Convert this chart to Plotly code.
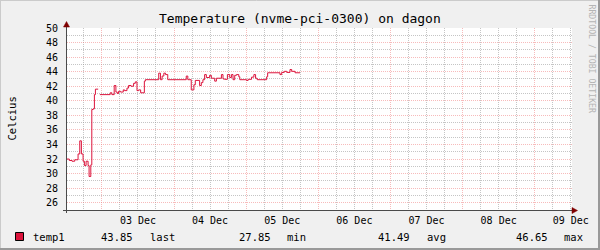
import plotly.graph_objects as go

# ---- data ----
times = [
    "2023-12-02 12:24", "2023-12-02 13:10", "2023-12-02 14:04", "2023-12-02 14:58",
    "2023-12-02 16:05", "2023-12-02 16:39", "2023-12-02 17:11", "2023-12-02 17:45",
    "2023-12-02 18:11", "2023-12-02 18:45", "2023-12-02 19:25", "2023-12-02 19:45",
    "2023-12-02 20:19", "2023-12-02 20:39", "2023-12-02 21:05", "2023-12-02 21:31",
    "2023-12-02 21:51", "2023-12-02 22:46", "2023-12-02 22:50", "2023-12-02 23:20",
    "2023-12-03 02:46", "2023-12-03 03:20", "2023-12-03 04:06", "2023-12-03 04:40",
    "2023-12-03 05:07", "2023-12-03 05:33", "2023-12-03 06:13", "2023-12-03 07:07",
    "2023-12-03 07:33", "2023-12-03 08:21", "2023-12-03 08:53", "2023-12-03 09:41",
    "2023-12-03 10:33", "2023-12-03 11:07", "2023-12-03 11:41", "2023-12-03 12:14",
    "2023-12-03 12:54", "2023-12-03 14:08", "2023-12-03 14:28", "2023-12-03 18:55",
    "2023-12-03 19:29", "2023-12-03 20:03", "2023-12-03 20:37", "2023-12-03 21:11",
    "2023-12-03 21:55", "2023-12-04 04:04", "2023-12-04 04:36", "2023-12-04 05:44",
    "2023-12-04 06:37", "2023-12-04 07:05", "2023-12-04 08:31", "2023-12-04 09:05",
    "2023-12-04 09:37", "2023-12-04 10:11", "2023-12-04 10:45", "2023-12-04 11:51",
    "2023-12-04 12:25", "2023-12-04 13:32", "2023-12-04 14:06", "2023-12-04 15:46",
    "2023-12-04 16:18", "2023-12-04 16:52", "2023-12-04 17:46", "2023-12-04 18:32",
    "2023-12-04 19:06", "2023-12-04 19:38", "2023-12-04 20:12", "2023-12-04 20:46",
    "2023-12-04 21:33", "2023-12-04 21:53", "2023-12-05 00:07", "2023-12-05 00:40",
    "2023-12-05 01:48", "2023-12-05 02:34", "2023-12-05 03:08", "2023-12-05 03:40",
    "2023-12-05 06:49", "2023-12-05 07:09", "2023-12-05 11:15", "2023-12-05 11:49",
    "2023-12-05 12:41", "2023-12-05 13:29", "2023-12-05 14:35", "2023-12-05 15:09",
    "2023-12-05 16:16", "2023-12-05 17:56",
]
temp1 = [
    32.0, 31.8, 31.7, 31.9,
    32.7, 34.5, 32.7, 31.7,
    31.1, 31.7, 31.1, 29.6,
    31.2, 38.8, 38.9, 40.85,
    41.6, 41.6, None, 40.85,
    41.1, 40.85, 42.1, 41.2,
    41.0, 41.3, 41.2, 41.5,
    41.4, 41.75, 42.1, 42.0,
    42.4, 42.6, 41.4, 41.5,
    41.1, 42.7, 42.9, 43.8,
    42.9, 43.4, 43.8, 43.6,
    42.9, 43.4, 42.9, 41.5,
    42.2, 42.8, 42.1, 42.5,
    42.9, 43.6, 43.2, 43.5,
    43.1, 42.7, 43.1, 43.6,
    43.0, 42.95, 43.6, 43.2,
    43.6, 42.9, 43.5, 43.6,
    43.3, 42.9, 42.8, 42.95,
    43.25, 43.6, 43.1, 42.9,
    43.3, 43.85, 43.6, 43.9,
    44.05, 43.9, 44.3, 44.05,
    43.85, 43.85,
]
x_range = ["2023-12-02 12:24", "2023-12-09 12:24"]
y_range = [25, 50]
title = "Temperature (nvme-pci-0300) on dagon"
y_title = "Celcius"
series_name = "temp1"
stats = [("43.85", "last"), ("27.85", "min"), ("41.49", "avg"), ("46.65", "max")]
watermark = "RRDTOOL / TOBI OETIKER"

# ---- geometry helpers (pixel -> paper) ----
W, H = 600, 250
L, R, T, B = 67, 28, 28, 40
PW, PH = W - L - R, H - T - B


def px(x):
    return (x - L) / PW


def py(y):
    return (H - B - y) / PH


LINE = "#dc143c"
FONT = "DejaVu Sans Mono"

fig = go.Figure()
fig.add_trace(go.Scatter(
    x=times, y=temp1, mode="lines", line=dict(color=LINE, width=1, shape="hv"),
    connectgaps=False, showlegend=False, hoverinfo="skip",
))

minor_col = "rgba(150,150,150,0.55)"
major_col = "rgba(240,120,120,0.5)"

fig.update_layout(
    width=W, height=H,
    margin=dict(l=L, r=R, t=T, b=B, pad=0),
    paper_bgcolor="#f0f0f0", plot_bgcolor="#ffffff",
    font=dict(family=FONT, size=10, color="#000000"),
    showlegend=False,
    xaxis=dict(
        type="date", range=x_range, tick0="2023-12-02", dtick=86400000,
        ticklabelmode="period", tickformat="%d %b",
        showgrid=True, gridcolor=major_col, griddash="1px,1px", gridwidth=1,
        ticks="", showline=False, zeroline=False,
        tickfont=dict(family=FONT, size=10), ticklabelstandoff=3,
        minor=dict(dtick=21600000, tick0="2023-12-02", showgrid=True,
                   gridcolor=minor_col, griddash="1px,1px", gridwidth=1),
        fixedrange=True,
    ),
    yaxis=dict(
        range=y_range, tick0=0, dtick=2,
        showgrid=True, gridcolor=major_col, griddash="1px,1px", gridwidth=1,
        ticks="", showline=False, zeroline=False,
        tickfont=dict(family=FONT, size=10), ticklabelstandoff=8,
        minor=dict(dtick=1, tick0=0, showgrid=True, gridcolor=minor_col,
                   griddash="1px,1px", gridwidth=1),
        fixedrange=True,
    ),
)

shapes = []
# 3D frame around the canvas
shapes.append(dict(type="line", xref="paper", yref="paper", x0=px(0), x1=px(W), y0=py(0.5), y1=py(0.5),
                   line=dict(color="#cbcbcb", width=1)))
shapes.append(dict(type="line", xref="paper", yref="paper", x0=px(0.5), x1=px(0.5), y0=py(0), y1=py(H),
                   line=dict(color="#cbcbcb", width=1)))
shapes.append(dict(type="line", xref="paper", yref="paper", x0=px(0), x1=px(W), y0=py(H - 1), y1=py(H - 1),
                   line=dict(color="#999999", width=2)))
shapes.append(dict(type="line", xref="paper", yref="paper", x0=px(W - 1), x1=px(W - 1), y0=py(0), y1=py(H),
                   line=dict(color="#999999", width=2)))
# axes
AX = "#4a4a4a"
shapes.append(dict(type="line", xref="paper", yref="paper", x0=px(63), x1=px(573), y0=py(210.5), y1=py(210.5),
                   line=dict(color=AX, width=1)))
shapes.append(dict(type="line", xref="paper", yref="paper", x0=px(66.5), x1=px(66.5), y0=py(213), y1=py(25),
                   line=dict(color=AX, width=1)))
# arrows
ARW = "#7f0000"
shapes.append(dict(type="path", xref="paper", yref="paper",
                   path=f"M {px(66.5)},{py(21.5)} L {px(63.5)},{py(27)} L {px(69.5)},{py(27)} Z",
                   fillcolor=ARW, line=dict(color=ARW, width=0.5)))
shapes.append(dict(type="path", xref="paper", yref="paper",
                   path=f"M {px(577.5)},{py(210.5)} L {px(572)},{py(207.5)} L {px(572)},{py(213.5)} Z",
                   fillcolor=ARW, line=dict(color=ARW, width=0.5)))
# legend swatch
shapes.append(dict(type="rect", xref="paper", yref="paper", x0=px(15.5), x1=px(23.5), y0=py(232.5), y1=py(240.5),
                   fillcolor=LINE, line=dict(color="#000000", width=1)))
fig.update_layout(shapes=shapes)

ann = []
ann.append(dict(text=title, xref="paper", yref="paper", x=px(300), y=py(19), xanchor="center", yanchor="middle",
                showarrow=False, font=dict(family=FONT, size=13, color="#000000")))
ann.append(dict(text=y_title, xref="paper", yref="paper", x=px(11.5), y=py(119), xanchor="center", yanchor="middle",
                textangle=-90, showarrow=False, font=dict(family=FONT, size=10.5, color="#000000")))
ann.append(dict(text=watermark, xref="paper", yref="paper", x=px(591.5), y=py(59), xanchor="center", yanchor="middle",
                textangle=90, showarrow=False, font=dict(family=FONT, size=8.2, color="#b4b4b4")))
leg_y = py(236.5)
ann.append(dict(text=series_name, xref="paper", yref="paper", x=px(31), y=leg_y, xanchor="left", yanchor="middle",
                showarrow=False, font=dict(family=FONT, size=10.5)))
stat_x = [(99, 148), (237, 285), (376, 425), (514, 562)]
for (val, lab), (xv, xl) in zip(stats, stat_x):
    ann.append(dict(text=val, xref="paper", yref="paper", x=px(xv), y=leg_y, xanchor="left", yanchor="middle",
                    showarrow=False, font=dict(family=FONT, size=10.5)))
    ann.append(dict(text=lab, xref="paper", yref="paper", x=px(xl), y=leg_y, xanchor="left", yanchor="middle",
                    showarrow=False, font=dict(family=FONT, size=10.5)))
fig.update_layout(annotations=ann)

fig.write_html("out.html")
